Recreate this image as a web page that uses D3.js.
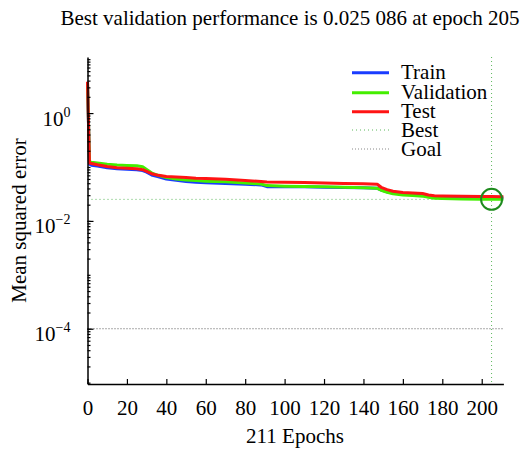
<!DOCTYPE html>
<html><head><meta charset="utf-8">
<script src="https://cdn.jsdelivr.net/npm/d3@7"></script>
<style>
body{margin:0;background:#fff;}
svg text{font-family:"Liberation Serif","Times New Roman","DejaVu Serif",serif;}
</style></head>
<body><svg id="c" width="524" height="451"></svg>
<script>
// ---- data ----
const epochs = [0,1,2,5,10,15,20,25,28,30,33,36,40,45,50,55,60,70,80,88,91,100,110,120,130,140,147,149,152,155,160,165,170,173,176,180,190,200,205,211];
const trainValues = [3.6,0.113,0.108,0.104,0.097,0.093,0.091,0.089,0.086,0.080,0.070,0.066,0.060,0.0565,0.054,0.052,0.051,0.0495,0.048,0.0465,0.0432,0.043,0.0428,0.0422,0.0415,0.041,0.0405,0.0372,0.0345,0.033,0.0315,0.0305,0.0295,0.0285,0.0275,0.0272,0.027,0.0268,0.0268,0.0267];
const validationValues = [3.7,0.126,0.123,0.119,0.113,0.109,0.1065,0.105,0.101,0.090,0.076,0.070,0.064,0.060,0.0575,0.056,0.0545,0.053,0.0505,0.0485,0.0452,0.044,0.0435,0.0428,0.042,0.041,0.0402,0.037,0.034,0.032,0.0302,0.0295,0.0288,0.0274,0.0262,0.0259,0.0256,0.0253,0.025086,0.0251];
const testValues = [3.8,0.118,0.116,0.110,0.102,0.097,0.095,0.093,0.089,0.083,0.074,0.070,0.0665,0.0655,0.064,0.062,0.061,0.059,0.056,0.054,0.0525,0.052,0.0518,0.0505,0.0495,0.0488,0.0477,0.042,0.038,0.0355,0.0338,0.033,0.0322,0.0302,0.0293,0.029,0.0287,0.0284,0.0283,0.0282];
const bestEpoch = 205;
const bestValue = 0.025086;
const goalValue = 1e-4;
const xTicks = [0,20,40,60,80,100,120,140,160,180,200];
const yMajorTicks = [1e0,1e-2,1e-4];
const yMajorExp = ["0","\u22122","\u22124"];
const legendLabels = ["Train","Validation","Test","Best","Goal"];
const titleText = "Best validation performance is 0.025 086 at epoch 205";
const xLabel = "211 Epochs";
const yLabel = "Mean squared error";

// ---- layout ----
const FONT = '"Liberation Serif","Times New Roman","DejaVu Serif",serif';
const svg = d3.select("#c");
const x = d3.scaleLinear().domain([0,211]).range([87.5,503.4]);
const y = d3.scaleLog().domain([Math.pow(10,-5.025),Math.pow(10,1.04)]).range([384,57]);
const FS = 21;

// minor ticks
const minor = [];
for (let e=-6;e<=1;e++) for (let m=1;m<=9;m++){ const v=m*Math.pow(10,e); if (v>=y.domain()[0] && v<=y.domain()[1]) minor.push(v); }

// reference lines
svg.append("line").attr("x1",x(0)).attr("x2",x(211)).attr("y1",y(goalValue)).attr("y2",y(goalValue))
  .attr("stroke","#555").attr("stroke-width",1).attr("stroke-dasharray","1,2");
svg.append("line").attr("x1",x(0)).attr("x2",x(211)).attr("y1",y(bestValue)).attr("y2",y(bestValue))
  .attr("stroke","#5cb85c").attr("stroke-width",1).attr("stroke-dasharray","1,3");
svg.append("line").attr("x1",x(bestEpoch)).attr("x2",x(bestEpoch)).attr("y1",57).attr("y2",384)
  .attr("stroke","#5cb85c").attr("stroke-width",1).attr("stroke-dasharray","1,3");

// series
const line = d3.line().x(d=>x(d[0])).y(d=>y(d[1]));
const series = [
  {vals:trainValues,color:"#1a3cff"},
  {vals:validationValues,color:"#44ee00"},
  {vals:testValues,color:"#ff1414"}
];
series.forEach(s=>{
  svg.append("path").datum(epochs.map((e,i)=>[e,s.vals[i]]))
    .attr("d",line).attr("fill","none").attr("stroke",s.color).attr("stroke-width",3)
    .attr("stroke-linejoin","round");
});

// best circle
svg.append("circle").attr("cx",x(bestEpoch)).attr("cy",y(bestValue)).attr("r",10.5)
  .attr("fill","none").attr("stroke","#1e8a1e").attr("stroke-width",2);

// axes
const gx = svg.append("g").attr("transform","translate(0,384)")
  .call(d3.axisBottom(x).tickValues(xTicks).tickSize(-5).tickSizeOuter(0).tickPadding(16));
gx.attr("font-family",FONT).attr("font-size",FS);
gx.selectAll("text").attr("font-size",FS).attr("font-family",FONT).attr("fill","#000");
const gyMinor = svg.append("g").attr("transform","translate(87.5,0)")
  .call(d3.axisLeft(y).tickValues(minor).tickSize(-3).tickSizeOuter(0).tickFormat(""));
const gy = svg.append("g").attr("transform","translate(87.5,0)")
  .call(d3.axisLeft(y).tickValues(yMajorTicks).tickSize(-6).tickSizeOuter(0).tickFormat(""));
gy.attr("font-family",FONT);
gy.selectAll(".tick text").remove();
gy.selectAll(".tick").each(function(d,i){
  const t = d3.select(this).append("text").attr("x",-17).attr("y",12).attr("text-anchor","end")
    .attr("font-size",FS).attr("fill","#000").attr("font-family",FONT);
  t.append("tspan").text("10");
  t.append("tspan").attr("dy",-9).attr("font-size",14).text(yMajorExp[i]);
});
[gx,gy,gyMinor].forEach(g=>{
  g.select(".domain").attr("stroke","#000").attr("stroke-width",1.5);
  g.selectAll(".tick line").attr("stroke","#000").attr("stroke-width",1.2);
});
gyMinor.select(".domain").remove();

// labels
svg.append("text").attr("x",290).attr("y",25).attr("text-anchor","middle").attr("font-size",FS).attr("font-family",FONT).text(titleText);
svg.append("text").attr("x",295).attr("y",443).attr("text-anchor","middle").attr("font-size",FS).attr("font-family",FONT).text(xLabel);
svg.append("text").attr("transform","translate(25.5,220.5) rotate(-90)").attr("text-anchor","middle").attr("font-size",FS).attr("font-family",FONT).text(yLabel);

// legend
const legY = [72.7,92.7,111.7,130,149];
const legStyle = [
  {c:"#1a3cff",w:3,d:null},
  {c:"#44ee00",w:3,d:null},
  {c:"#ff1414",w:3,d:null},
  {c:"#5cb85c",w:1,d:"1,3"},
  {c:"#888",w:1,d:"1,2"}
];
legendLabels.forEach((lab,i)=>{
  const l = svg.append("line").attr("x1",352).attr("x2",389).attr("y1",legY[i]).attr("y2",legY[i])
    .attr("stroke",legStyle[i].c).attr("stroke-width",legStyle[i].w);
  if (legStyle[i].d) l.attr("stroke-dasharray",legStyle[i].d);
  svg.append("text").attr("x",401).attr("y",legY[i]+6.6).attr("font-size",FS).attr("font-family",FONT).text(lab);
});
</script></body></html>
